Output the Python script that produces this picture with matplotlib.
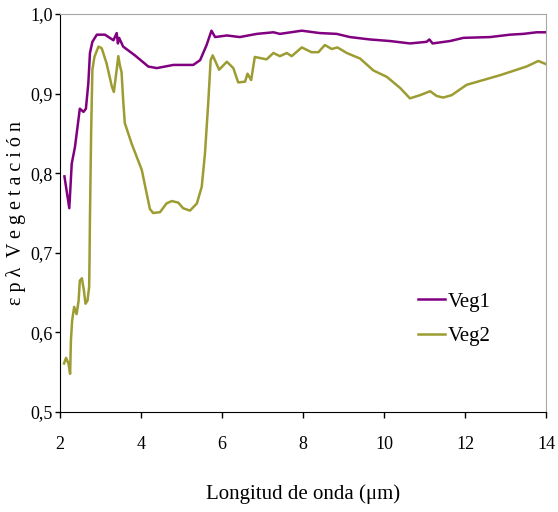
import matplotlib
matplotlib.use("Agg")
import matplotlib.pyplot as plt

plt.rcParams['font.family'] = ['Liberation Serif', 'DejaVu Serif']

# wavelength (um) / emissivity
veg1_x = [2.11, 2.23, 2.29, 2.37, 2.49, 2.58, 2.64, 2.70, 2.74, 2.80, 2.91, 3.11,
          3.32, 3.40, 3.43, 3.46, 3.56, 3.85, 4.18, 4.39, 4.80, 5.29, 5.46, 5.62,
          5.74, 5.83, 6.12, 6.44, 6.86, 7.27, 7.43, 7.97, 8.42, 8.83, 9.16, 9.65,
          10.15, 10.64, 11.05, 11.12, 11.20, 11.63, 11.96, 12.62, 13.11, 13.44,
          13.77, 14.0]
veg1_y = [0.796, 0.756, 0.812, 0.833, 0.881, 0.877, 0.881, 0.913, 0.951, 0.965,
          0.974, 0.974, 0.967, 0.976, 0.963, 0.970, 0.959, 0.948, 0.934, 0.932,
          0.936, 0.936, 0.942, 0.961, 0.979, 0.971, 0.973, 0.971, 0.975, 0.977,
          0.975, 0.979, 0.976, 0.975, 0.971, 0.968, 0.966, 0.963, 0.965, 0.968,
          0.963, 0.966, 0.970, 0.971, 0.974, 0.975, 0.977, 0.977]

veg2_x = [2.10, 2.15, 2.21, 2.25, 2.27, 2.30, 2.35, 2.41, 2.46, 2.49, 2.54, 2.59,
          2.63, 2.68, 2.72, 2.73, 2.74, 2.77, 2.80, 2.85, 2.95, 3.03, 3.15, 3.28,
          3.33, 3.40, 3.44, 3.48, 3.52, 3.56, 3.60, 3.77, 4.02, 4.22, 4.30, 4.47,
          4.63, 4.76, 4.92, 5.04, 5.21, 5.38, 5.50, 5.58, 5.66, 5.72, 5.77, 5.93,
          6.12, 6.28, 6.40, 6.57, 6.63, 6.72, 6.81, 7.10, 7.27, 7.43, 7.60, 7.72,
          7.97, 8.21, 8.38, 8.54, 8.71, 8.85, 9.08, 9.41, 9.74, 10.07, 10.40,
          10.64, 10.89, 11.14, 11.30, 11.46, 11.67, 12.04, 12.45, 12.86, 13.28,
          13.52, 13.81, 14.0]
veg2_y = [0.561, 0.568, 0.561, 0.548, 0.590, 0.615, 0.632, 0.623, 0.640, 0.665,
          0.668, 0.653, 0.636, 0.640, 0.657, 0.693, 0.745, 0.854, 0.930, 0.946,
          0.959, 0.957, 0.938, 0.909, 0.902, 0.930, 0.947, 0.935, 0.927, 0.892,
          0.863, 0.837, 0.804, 0.755, 0.750, 0.751, 0.762, 0.765, 0.763, 0.756,
          0.753, 0.762, 0.783, 0.825, 0.888, 0.942, 0.948, 0.930, 0.940, 0.932,
          0.914, 0.915, 0.925, 0.917, 0.946, 0.943, 0.951, 0.947, 0.951, 0.947,
          0.958, 0.952, 0.952, 0.961, 0.956, 0.958, 0.951, 0.944, 0.929, 0.921,
          0.907, 0.894, 0.898, 0.903, 0.897, 0.895, 0.898, 0.911, 0.917, 0.923,
          0.930, 0.934, 0.941, 0.937]

x_ticks = [2, 4, 6, 8, 10, 12, 14]
y_ticks = [0.5, 0.6, 0.7, 0.8, 0.9, 1.0]
y_labels = ['0,5', '0,6', '0,7', '0,8', '0,9', '1,0']

fig = plt.figure(figsize=(5.58, 5.12), dpi=100)
ax = fig.add_axes([0.1075, 0.1953, 0.871, 0.7774])

ax.plot(veg1_x, veg1_y, color='#800080', lw=1.8, label='Veg1')
ax.plot(veg2_x, veg2_y, color='#9c9c33', lw=1.8, label='Veg2')

ax.set_xlim(2, 14)
ax.set_ylim(0.5, 1.0)
ax.set_xticks(x_ticks)
ax.set_xticklabels([str(t) for t in x_ticks])
ax.set_yticks(y_ticks)
ax.set_yticklabels(y_labels)
ax.tick_params(axis='x', direction='out', length=4.5, width=1, pad=13, labelsize=13)
ax.tick_params(axis='y', direction='out', length=3.5, width=1, pad=1.5, labelsize=13)

for s in ['top', 'right']:
    ax.spines[s].set_color('#a6a6a6')
for s in ['left', 'bottom']:
    ax.spines[s].set_color('black')

ax.set_xlabel('Longitud de onda (μm)', fontsize=15, labelpad=22)
ax.set_ylabel('ε p λ  V e g e t a c i ó n', fontsize=14.5, labelpad=3)

ax.legend(loc='upper left', bbox_to_anchor=(0.72, 0.322), frameon=False,
          fontsize=15, handlelength=1.3, handletextpad=0.1, labelspacing=0.7,
          borderaxespad=0)

fig.savefig('out.png', dpi=100)
